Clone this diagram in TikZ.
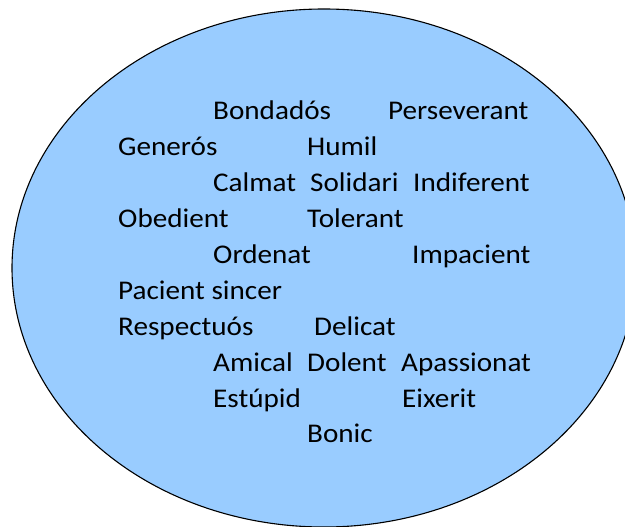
\documentclass[tikz,border=0pt]{standalone}
\usepackage{fontspec}
\setmainfont{Carlito}[FakeStretch=1.08]
\usetikzlibrary{positioning}
\definecolor{blob}{RGB}{153,204,255}
\tikzstyle{word}=[anchor=base west, inner sep=0pt, font=\wordfont]
\newcommand{\wordfont}{\fontsize{27bp}{31bp}\selectfont}
\begin{document}
\begin{tikzpicture}[x=1bp, y=-1bp]
\useasboundingbox (0,0) rectangle (625,527);
\draw[line width=1.1bp, fill=blob] (324,268) ellipse [x radius=312, y radius=259];
% rows, baselines 36 apart
\node[word] at (213,119.5) (bond) {Bondadós};
\node[word] at (388,119.5) (pers) {Perseverant};
\node[word] at (118,155.5) (gene) {Generós};
\node[word] at (307,155.5) (humil) {Humil};
\node[word] at (213,191.5) (calm) {Calmat};
\node[word] at (310,191.5) (soli) {Solidari};
\node[word] at (413,191.5) (indif) {Indiferent};
\node[word] at (118,227.5) (obed) {Obedient};
\node[word] at (307,227.5) (toler) {Tolerant};
\node[word] at (213,263.5) (orden) {Ordenat};
\node[word] at (412,263.5) (impac) {Impacient};
\node[word] at (118,299.5) (pacie) {Pacient sincer};
\node[word] at (118,335.5) (respe) {Respectuós};
\node[word] at (314,335.5) (delic) {Delicat};
\node[word] at (213,371) (amic) {Amical};
\node[word] at (307,371) (dolen) {Dolent};
\node[word] at (401,371) (apass) {Apassionat};
\node[word] at (213,407) (estup) {Estúpid};
\node[word] at (402,407) (eixer) {Eixerit};
\node[word] at (307,442.5) (bonic) {Bonic};
\end{tikzpicture}
\end{document}
